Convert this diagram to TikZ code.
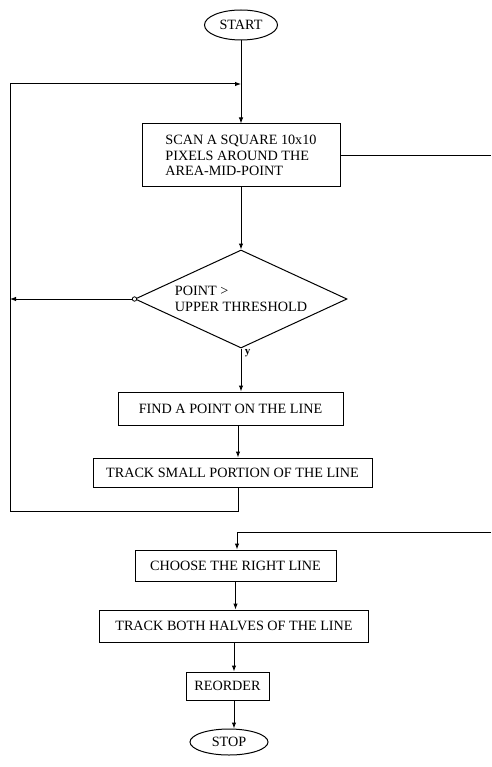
\documentclass[tikz,border=0pt]{standalone}
\usepackage{fontspec}
\setmainfont{Liberation Serif}
\usetikzlibrary{shapes.geometric,arrows.meta}

\begin{document}
\begin{tikzpicture}[x=1pt,y=-1pt,line width=1pt,>={Latex[length=6pt,width=4.5pt]},
    font=\fontsize{14.2}{15.5}\selectfont,
    terminal/.style={draw,ellipse,inner sep=0pt},
    procbox/.style={draw,rectangle,inner sep=0pt,align=left},
    test/.style={draw,diamond,shape aspect=2.16,inner sep=0pt,align=left}]
      \useasboundingbox (0,0) rectangle (491,767);
      % upper part: search for a line
      \node[terminal,minimum width=73pt,minimum height=30pt] (start) at (241,25) {START};
      \node[procbox,minimum width=198pt,minimum height=63pt] (scan) at (241,155.5)
        {SCAN A SQUARE 10x10\\PIXELS AROUND THE\\AREA-MID-POINT};
      \node[test,minimum width=212pt,minimum height=98pt] (thresh) at (241,299)
        {POINT >\\UPPER THRESHOLD};
      \node[procbox,minimum width=225pt,minimum height=33pt] (find) at (230.5,408.5) {FIND A POINT ON THE LINE};
      \node[procbox,minimum width=279pt,minimum height=29pt] (small) at (232.5,472.5) {TRACK SMALL PORTION OF THE LINE};
      % lower part
      \node[procbox,minimum width=201pt,minimum height=31pt] (choose) at (235.5,565.5) {CHOOSE THE RIGHT LINE};
      \node[procbox,minimum width=269pt,minimum height=32pt] (both) at (234,626) {TRACK BOTH HALVES OF THE LINE};
      \node[procbox,minimum width=83pt,minimum height=28pt] (reorder) at (227.5,686) {REORDER};
      \node[terminal,minimum width=78pt,minimum height=26pt] (stop) at (229,742) {STOP};
      \coordinate (merge) at (241,84);
      \coordinate (lefttop) at (10,84);
      \coordinate (loopbot) at (238,511);
      \coordinate (loopleft) at (10,511);
      \coordinate (exitA) at (491,156);
      \coordinate (entryB) at (491,532);
      % connectors
      \draw (start.south) -- (merge);
      \draw[->] (merge) -- (scan.north);
      \draw[->] (scan.south) -- (thresh.north);
      \draw[->] (thresh.south) -- (thresh.south |- find.north)
        node[pos=0.12,right,font=\fontsize{11}{12}\selectfont\bfseries] {y};
      \draw[->] (find.south -| loopbot) -- (small.north -| loopbot);
      \draw[->] (small.south -| loopbot) -- (loopbot) -- (loopleft) -- (lefttop) -- (merge);
      \draw[->] (thresh.west) -- (thresh.west -| lefttop);
      \draw[fill=white,line width=0.8pt] (thresh.west) circle (2.2pt);
      \draw (scan.east) -- (scan.east -| exitA);
      \draw[->] (entryB) -| (237,0 |- choose.north);
      \draw[->] (choose.south) -- (choose.south |- both.north);
      \draw[->] (both.south) -- (both.south |- reorder.north);
      \draw[->] (both.south |- reorder.south) -- (both.south |- stop.north);
\end{tikzpicture}
\end{document}
